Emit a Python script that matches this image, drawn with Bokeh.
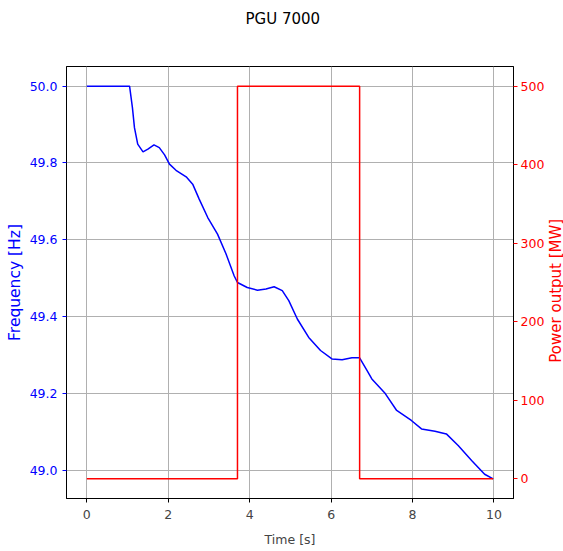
import math
from bokeh.plotting import figure
from bokeh.layouts import row
from bokeh.models import Range1d, LinearAxis, FixedTicker, PrintfTickFormatter, Title
from bokeh.core.properties import value
from bokeh.embed import file_html
from bokeh.resources import INLINE

# ---- data ----
time_s = [0.0, 1.05, 1.12, 1.17, 1.25, 1.38, 1.50, 1.65, 1.78, 1.91, 2.03, 2.19, 2.44,
          2.60, 2.76, 2.97, 3.21, 3.42, 3.62, 3.70, 3.94, 4.19, 4.40, 4.60, 4.80, 4.96,
          5.17, 5.45, 5.74, 6.02, 6.27, 6.51, 6.70, 6.88, 7.00, 7.33, 7.61, 7.97, 8.22,
          8.55, 8.83, 9.12, 9.45, 9.77, 9.98]
freq_hz = [50.0, 50.0, 49.944, 49.892, 49.849, 49.829, 49.836, 49.847, 49.840, 49.821,
           49.797, 49.781, 49.764, 49.745, 49.706, 49.658, 49.615, 49.563, 49.506, 49.489,
           49.476, 49.469, 49.472, 49.478, 49.468, 49.442, 49.394, 49.346, 49.312, 49.290,
           49.288, 49.293, 49.293, 49.260, 49.238, 49.200, 49.156, 49.130, 49.108, 49.102,
           49.095, 49.065, 49.026, 48.990, 48.978]
step_time = [0.0, 3.70, 3.70, 6.70, 6.70, 9.98]
step_power_mw = [0, 0, 500, 500, 0, 0]
x_ticks = [0, 2, 4, 6, 8, 10]
freq_ticks = [49.0, 49.2, 49.4, 49.6, 49.8, 50.0]
power_ticks = [0, 100, 200, 300, 400, 500]
title_text = "PGU 7000"
x_label = "Time [s]"
left_label = "Frequency [Hz]"
right_label = "Power output [MW]"

FONT = "DejaVu Sans"
BLUE = "#0000ff"
RED = "#ff0000"

W_MAIN, W_SIDE, H = 547, 16, 551
B_LEFT, B_RIGHT, B_TOP, B_BOTTOM = 66, 31, 66, 53

tmin, tmax = min(time_s), max(time_s)
tpad = 0.05 * (tmax - tmin)
fmin, fmax = min(freq_hz), max(freq_hz)
fpad = 0.05 * (fmax - fmin)
pmin, pmax = min(step_power_mw), max(step_power_mw)
ppad = 0.05 * (pmax - pmin)

p = figure(width=W_MAIN, height=H, output_backend="svg", toolbar_location=None, title=None,
           x_range=Range1d(tmin - tpad, tmax + tpad),
           y_range=Range1d(fmin - fpad, fmax + fpad),
           min_border_left=B_LEFT, min_border_right=B_RIGHT,
           min_border_top=B_TOP, min_border_bottom=B_BOTTOM)
p.extra_y_ranges = {"power": Range1d(pmin - ppad, pmax + ppad)}

p.outline_line_color = "black"
p.outline_line_width = 1
p.background_fill_color = "white"
p.border_fill_color = "white"

# spacer next to the frame (blank), then the title further out
p.add_layout(Title(text=" ", text_font_size="2px", standoff=30, text_color="white"), "above")
p.add_layout(Title(text=title_text, text_font=FONT, text_font_size="15px",
                   text_font_style="normal", text_color="black", align="left",
                   offset=179, standoff=10), "above")

# grid
p.xgrid.grid_line_color = "#b0b0b0"
p.ygrid.grid_line_color = "#b0b0b0"
p.xgrid.grid_line_width = 1
p.ygrid.grid_line_width = 1

# x axis
xa = p.xaxis[0]
xa.ticker = FixedTicker(ticks=x_ticks)
xa.axis_label = x_label
xa.axis_label_text_font = FONT
xa.axis_label_text_font_style = "normal"
xa.axis_label_text_font_size = "12.5px"
xa.axis_label_standoff = 10
xa.major_label_text_font = FONT
xa.major_label_text_font_size = "12.5px"
xa.major_label_standoff = 7
xa.major_tick_out = 4
xa.major_tick_in = 0
xa.minor_tick_out = 0
xa.minor_tick_in = 0
xa.axis_line_color = "black"

# left axis
ya = p.yaxis[0]
ya.ticker = FixedTicker(ticks=freq_ticks)
ya.formatter = PrintfTickFormatter(format="%.1f")
ya.axis_label = left_label
ya.axis_label_text_font = FONT
ya.axis_label_text_font_style = "normal"
ya.axis_label_text_font_size = "15.5px"
ya.axis_label_text_color = BLUE
ya.axis_label_standoff = 3
ya.major_label_text_font = FONT
ya.major_label_text_font_size = "12.5px"
ya.major_label_text_color = BLUE
ya.major_label_standoff = 5
ya.major_tick_out = 4
ya.major_tick_in = 0
ya.major_tick_line_color = BLUE
ya.minor_tick_out = 0
ya.minor_tick_in = 0
ya.axis_line_color = "black"

# right axis (ticks and numbers only; its title is drawn in the side strip)
ra = LinearAxis(y_range_name="power", ticker=FixedTicker(ticks=power_ticks))
ra.major_label_text_font = FONT
ra.major_label_text_font_size = "12.5px"
ra.major_label_text_color = RED
ra.major_label_standoff = 3
ra.major_tick_out = 4
ra.major_tick_in = 0
ra.major_tick_line_color = RED
ra.minor_tick_out = 0
ra.minor_tick_in = 0
ra.axis_line_color = "black"
p.add_layout(ra, "right")

# data
p.line(time_s, freq_hz, line_color=BLUE, line_width=1.5)
p.line(step_time, step_power_mw, line_color=RED, line_width=1.5, y_range_name="power")

# narrow strip on the right holding the rotated right-axis title (reads bottom to top)
side = figure(width=W_SIDE, height=H, output_backend="svg", toolbar_location=None,
              x_axis_type=None, y_axis_type=None, title=None,
              x_range=Range1d(0, 1), y_range=Range1d(0, H),
              min_border_left=0, min_border_right=0, min_border_top=0, min_border_bottom=0)
side.outline_line_color = None
side.background_fill_color = "white"
side.border_fill_color = "white"
side.xgrid.visible = False
side.ygrid.visible = False
frame_mid = H - (B_TOP + (H - B_TOP - B_BOTTOM) / 2.0) - 4
side.text(x=[0.5], y=[frame_mid], text=[right_label], angle=math.pi / 2,
          text_font=value(FONT), text_font_size="15px", text_color=RED,
          text_align="center", text_baseline="middle")

layout = row(p, side, spacing=0)
open("out.html", "w").write(file_html(layout, INLINE))
